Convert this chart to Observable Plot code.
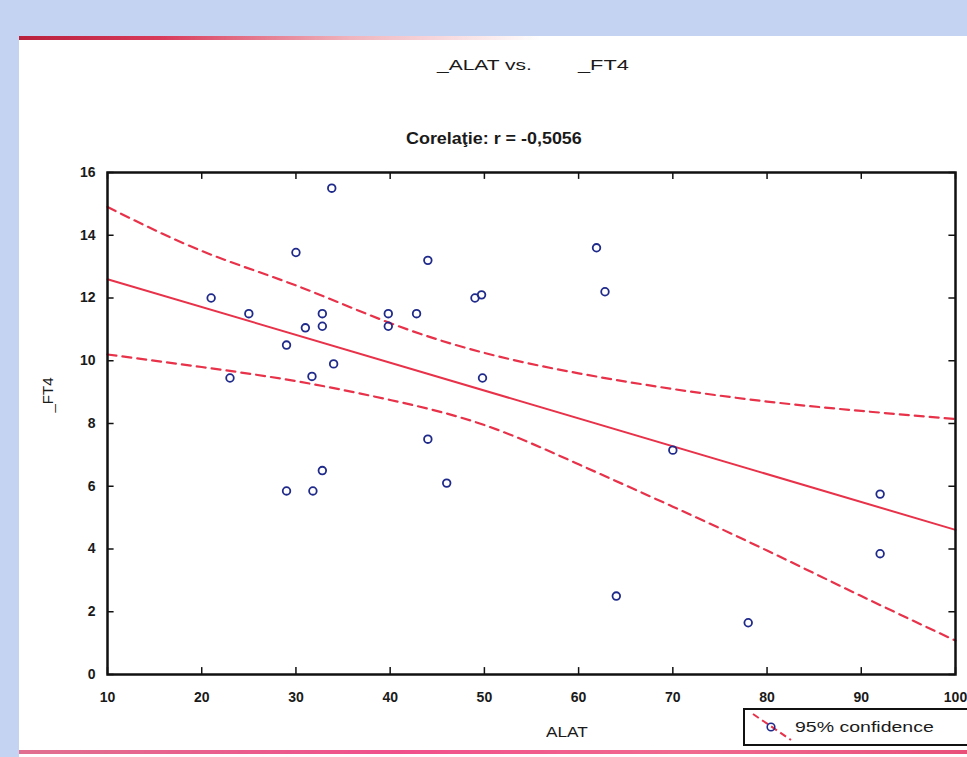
<!DOCTYPE html>
<html>
<head>
<meta charset="utf-8">
<script src="https://cdn.jsdelivr.net/npm/d3@7"></script>
<script src="https://cdn.jsdelivr.net/npm/@observablehq/plot@0.6"></script>
<style>
  html, body { margin: 0; padding: 0; }
  body { width: 967px; height: 757px; overflow: hidden; background: #c4d3f2; position: relative;
         font-family: "Liberation Sans", Arial, Helvetica, sans-serif; color: #1a1a1a; }
  #paper { position: absolute; left: 19px; top: 36px; width: 948px; height: 721px; background: #fff; }
  #topline { position: absolute; left: 19px; top: 36px; width: 948px; height: 4px;
             background: linear-gradient(to right, #b8203c 0%, #d83a5a 15%, rgba(220,90,110,0.45) 35%, rgba(220,90,110,0) 55%); }
  #bottomline { position: absolute; left: 19px; top: 750px; width: 948px; height: 4px;
             background: linear-gradient(to right, #e07090 0%, #f0508a 40%, #f06a8f 70%, #e8507a 100%); }
  #chart { position: absolute; left: 0; top: 0; }
  .txt { position: absolute; white-space: pre; transform-origin: left center; }
  #legend { position: absolute; left: 743px; top: 708px; width: 240px; height: 34px;
            border: 2px solid #111; background: #fff; }
</style>
</head>
<body>
<div id="paper"></div>
<div id="topline"></div>
<div id="bottomline"></div>
<div id="chart"></div>
<div class="txt" style="left:437px; top:56px; font-size:15px; transform: scaleX(1.4);">_ALAT vs.</div>
<div class="txt" style="left:578px; top:56px; font-size:15px; transform: scaleX(1.45);">_FT4</div>
<div class="txt" style="left:406px; top:130px; font-size:16px; font-weight:bold; transform: scaleX(1.12);">Corelaţie: r = -0,5056</div>
<div class="txt" style="left:47px; top:395px; font-size:15px; transform-origin: center; transform: translate(-50%,-50%) rotate(-90deg);">_FT4</div>
<div class="txt" style="left:546px; top:723px; font-size:15px; transform: scaleX(1.15);">ALAT</div>
<div id="legend">
  <svg width="44" height="34" style="position:absolute; left:4px; top:0px;">
    <line x1="4" y1="4" x2="42" y2="30" stroke="#e8324a" stroke-width="2" stroke-dasharray="7,4"/>
    <circle cx="22" cy="17" r="3.8" fill="none" stroke="#1f2a8a" stroke-width="1.6"/>
  </svg>
  <div class="txt" style="left:50px; top:8px; font-size:15px; transform: scaleX(1.3);">95% confidence</div>
</div>
<script>
// Data
const alat = [21, 23, 25, 30, 29, 29, 31, 31.7, 31.8, 32.8, 32.8, 32.8, 33.8, 34,
              39.8, 39.8, 42.8, 44, 44, 46, 49, 49.7, 49.8, 61.9, 62.8, 64, 70, 78, 92, 92];
const ft4  = [12.0, 9.45, 11.5, 13.45, 10.5, 5.85, 11.05, 9.5, 5.85, 11.5, 11.1, 6.5, 15.5, 9.9,
              11.5, 11.1, 11.5, 13.2, 7.5, 6.1, 12.0, 12.1, 9.45, 13.6, 12.2, 2.5, 7.15, 1.65, 5.75, 3.85];

// Regression line endpoints and 95% confidence bands
const fitX = [10, 100];
const fitY = [12.6, 4.61];
const bandX = [10, 20, 30, 40, 50, 60, 70, 80, 90, 100];
const upperY = [14.9, 13.5, 12.4, 11.2, 10.25, 9.6, 9.1, 8.7, 8.4, 8.14];
const lowerY = [10.2, 9.8, 9.35, 8.75, 7.95, 6.7, 5.35, 3.95, 2.5, 1.08];

const xTicks = [10, 20, 30, 40, 50, 60, 70, 80, 90, 100];
const yTicks = [0, 2, 4, 6, 8, 10, 12, 14, 16];

const points = alat.map((x, i) => ({x, y: ft4[i]}));
const fit = fitX.map((x, i) => ({x, y: fitY[i]}));
const upper = bandX.map((x, i) => ({x, y: upperY[i]}));
const lower = bandX.map((x, i) => ({x, y: lowerY[i]}));

const red = "#e8324a";
const blue = "#1f2a8a";

const chart = Plot.plot({
  width: 967,
  height: 757,
  marginLeft: 107,
  marginRight: 12,
  marginTop: 172,
  marginBottom: 83,
  x: {domain: [10, 100]},
  y: {domain: [0, 16]},
  style: {background: "transparent", fontFamily: "'Liberation Sans', Arial, sans-serif", color: "#1a1a1a"},
  marks: [
    Plot.axisX(xTicks, {tickSize: 0, tickPadding: 18, fontSize: 14, fontWeight: "bold", label: null}),
    Plot.axisY(yTicks, {tickSize: 0, tickPadding: 12, fontSize: 14, fontWeight: "bold", label: null}),
    // inward ticks on all four sides
    Plot.ruleX(xTicks, {x: d => d, y1: 0, y2: 0.22, stroke: "#111", strokeWidth: 1.5}),
    Plot.ruleX(xTicks, {x: d => d, y1: 16, y2: 15.78, stroke: "#111", strokeWidth: 1.5}),
    Plot.ruleY(yTicks, {y: d => d, x1: 10, x2: 10.7, stroke: "#111", strokeWidth: 1.5}),
    Plot.ruleY(yTicks, {y: d => d, x1: 100, x2: 99.3, stroke: "#111", strokeWidth: 1.5}),
    Plot.line(upper, {x: "x", y: "y", curve: "natural", stroke: red, strokeWidth: 2.2, strokeDasharray: "9,6"}),
    Plot.line(lower, {x: "x", y: "y", curve: "natural", stroke: red, strokeWidth: 2.2, strokeDasharray: "9,6"}),
    Plot.line(fit, {x: "x", y: "y", stroke: red, strokeWidth: 2}),
    Plot.dot(points, {x: "x", y: "y", r: 3.8, stroke: blue, strokeWidth: 1.8, fill: "none"}),
    Plot.frame({stroke: "#111", strokeWidth: 2.5})
  ]
});
document.getElementById("chart").appendChild(chart);
</script>
</body>
</html>
